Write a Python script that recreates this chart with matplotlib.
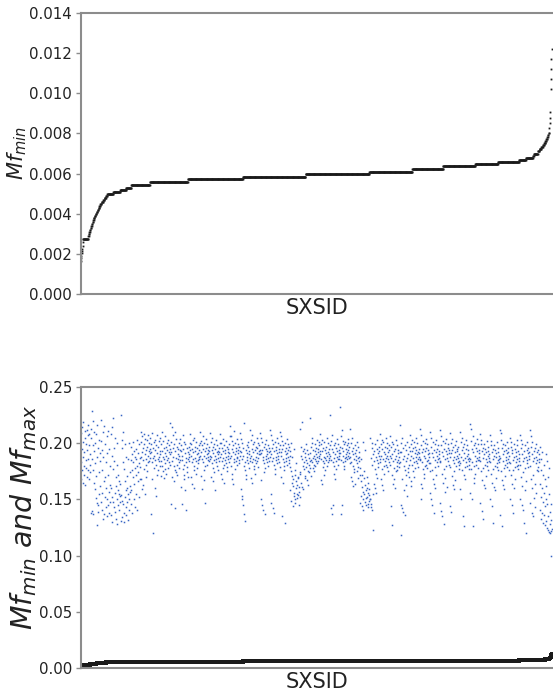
import numpy as np
import matplotlib
matplotlib.use("Agg")
import matplotlib.pyplot as plt

# Sorted minimum values: each level and how many SXSIDs sit on it
mf_min_levels = [0.00166, 0.0018, 0.0019, 0.00205, 0.00215, 0.00225, 0.0024, 0.0026, 0.00275,
                 0.0029, 0.0030, 0.0031, 0.0032, 0.0033, 0.0034, 0.0035, 0.0036, 0.0037,
                 0.0038, 0.0039, 0.0040, 0.0041, 0.0042, 0.0043, 0.0044,
                 0.0045, 0.0046, 0.0047, 0.0048, 0.0049,
                 0.0050, 0.0051, 0.0052, 0.0053, 0.00545, 0.00558, 0.00571, 0.00583, 0.00598,
                 0.0061, 0.00623, 0.00636, 0.00648, 0.00658, 0.0067,
                 0.0068, 0.0069, 0.0070, 0.0071, 0.0072, 0.0073, 0.0074, 0.0075, 0.0076,
                 0.0077, 0.0078, 0.0079, 0.0080,
                 0.00829, 0.00854, 0.00878, 0.00907, 0.0102, 0.0107, 0.0112, 0.0117, 0.0122]
mf_min_counts = [1, 1, 1, 1, 1, 1, 1, 1, 16,
                 2, 2, 2, 2, 2, 2, 2, 2, 2,
                 3, 3, 3, 3, 3, 3, 3,
                 4, 5, 4, 5, 4,
                 19, 22, 19, 16, 60, 121, 175, 200, 203,
                 137, 98, 102, 73, 67, 22,
                 22, 3, 13, 5, 6, 5, 4, 4, 3,
                 3, 2, 2, 2,
                 1, 1, 1, 1, 1, 1, 1, 1, 1]

# Maximum values (in units of 0.001), in SXSID order
mf_max_left = [
    183, 209, 168, 195, 214, 176, 201, 165, 188, 219, 172, 192, 180, 211, 163, 205, 178, 199, 185, 212, 170, 194, 207, 176, 216, 186, 168, 198, 208, 181, 190, 174,
    205, 138, 213, 186, 229, 140, 198, 176, 137, 220, 165, 193, 210, 159, 182, 200, 151, 171, 208, 147, 127, 188, 216, 139, 196, 145, 174, 203, 155, 191, 162, 184,
    221, 148, 202, 176, 156, 194, 141, 210, 133, 188, 166, 137, 215, 152, 199, 170, 143, 183, 160, 206, 135, 191, 150, 172, 145, 211, 157, 195, 138, 180, 163, 148,
    208, 160, 136, 214, 189, 152, 130, 222, 177, 148, 196, 143, 184, 156, 205, 139, 170, 133, 162, 200, 150, 181, 128, 158, 145, 172, 166, 141, 155, 153, 164, 148,
    225, 154, 131, 203, 149, 196, 134, 183, 146, 210, 130, 177, 138, 166, 152, 199, 143, 158, 188, 136, 171, 148, 160, 132, 186, 155, 141, 200, 150, 174, 162, 157,
    197, 158, 185, 146, 190, 176, 138, 201, 170, 183, 150, 193, 164, 188, 178, 143, 195, 172, 186, 155, 203, 180, 141, 174, 191, 166, 199, 182, 152, 168, 187, 179,
    210, 188, 168, 201, 192, 159, 206, 185, 196, 163, 199, 177, 208, 155, 190, 204, 181, 194, 170, 186, 203, 175, 197, 183, 189, 207, 193, 200, 184, 195, 191, 187,
    205, 192, 137, 199, 183, 209, 168, 187, 196, 120, 178, 201, 189, 160, 194, 185, 203, 153, 181, 198, 172, 191, 207, 176, 186, 197, 184, 202, 188, 180, 193, 190,
    205, 184, 199, 171, 193, 210, 180, 188, 202, 175, 196, 186, 169, 191, 206, 182, 177, 197, 173, 189, 200, 185, 194, 178, 203, 187, 192, 183, 198, 181, 195, 190,
    218, 192, 146, 201, 184, 214, 170, 196, 188, 207, 166, 180, 199, 142, 176, 193, 210, 187, 174, 204, 181, 197, 172, 190, 186, 195, 183, 200, 178, 189, 194, 185,
    204, 161, 193, 198, 185, 146, 189, 207, 177, 195, 172, 181, 201, 168, 191, 158, 199, 183, 141, 187, 196, 174, 179, 192, 186, 170, 197, 184, 190, 188, 194, 200,
    208, 189, 170, 199, 183, 195, 164, 203, 186, 192, 176, 205, 180, 160, 197, 187, 193, 173, 201, 184, 190, 178, 196, 185, 191, 182, 198, 188, 194, 186, 200, 189,
    210, 192, 171, 202, 186, 198, 159, 206, 183, 195, 176, 189, 200, 167, 193, 180, 147, 204, 187, 196, 181, 190, 199, 185, 191, 194, 188, 197, 184, 193, 189, 186,
    209, 188, 170, 201, 194, 182, 205, 166, 191, 197, 178, 185, 199, 174, 189, 158, 195, 183, 203, 186, 192, 180, 198, 176, 190, 193, 187, 184, 196, 192, 188, 200,
    208, 190, 173, 200, 184, 196, 168, 204, 187, 193, 178, 181, 198, 165, 191, 185, 194, 182, 202, 188, 179, 197, 175, 192, 189, 186, 195, 183, 191, 199, 206, 187,
]
mf_max_mid = [
    215, 189, 180, 206, 173, 195, 202, 168, 192, 198, 164, 186, 183, 211, 177, 200, 190, 196, 184, 193, 187, 181, 204, 188, 199, 194, 191, 185, 182, 197, 193, 189,
    209, 159, 192, 204, 153, 186, 200, 150, 196, 145, 189, 218, 180, 137, 183, 131, 176, 194, 172, 168, 198, 188, 191, 185, 201, 182, 197, 190, 193, 178, 187, 184,
    212, 189, 169, 203, 183, 207, 195, 165, 199, 186, 192, 177, 180, 201, 173, 194, 185, 197, 188, 182, 205, 191, 196, 184, 200, 187, 179, 193, 190, 198, 194, 190,
    209, 150, 191, 205, 167, 194, 145, 201, 185, 188, 141, 197, 182, 174, 199, 137, 178, 195, 189, 186, 203, 183, 193, 190, 198, 180, 187, 196, 184, 192, 188, 193,
    212, 155, 190, 207, 147, 196, 184, 203, 142, 199, 187, 138, 193, 181, 177, 201, 173, 194, 188, 197, 185, 191, 182, 205, 189, 200, 186, 195, 192, 183, 179, 198,
    210, 170, 192, 206, 189, 195, 135, 202, 186, 165, 198, 183, 180, 176, 200, 129, 193, 187, 196, 184, 190, 181, 204, 191, 199, 188, 194, 185, 182, 197, 193, 189,
    179, 158, 175, 200, 149, 171, 165, 188, 162, 144, 168, 156, 195, 153, 176, 150, 147, 172, 160, 166, 182, 155, 151, 163, 170, 154, 169, 145, 161, 157, 152, 174,
    213, 173, 197, 165, 189, 219, 186, 161, 193, 180, 159, 183, 177, 195, 169, 191, 188, 171, 185, 179, 199, 167, 182, 194, 175, 190, 163, 187, 181, 174, 184, 178,
    222, 191, 171, 197, 185, 205, 183, 200, 178, 194, 187, 175, 189, 181, 199, 186, 193, 180, 196, 184, 190, 182, 203, 188, 195, 192, 184, 198, 187, 189, 201, 193,
    208, 190, 167, 199, 186, 203, 164, 193, 184, 196, 179, 188, 172, 201, 182, 176, 194, 187, 191, 185, 197, 180, 205, 189, 183, 200, 192, 187, 195, 190, 185, 198,
    225, 189, 142, 202, 185, 207, 137, 195, 183, 192, 145, 187, 198, 180, 173, 200, 168, 190, 177, 196, 184, 193, 188, 204, 181, 199, 186, 194, 191, 189, 186, 197,
    232, 191, 137, 206, 185, 212, 196, 145, 189, 202, 183, 193, 180, 199, 177, 187, 201, 184, 195, 190, 188, 198, 186, 192, 204, 189, 200, 194, 197, 191, 187, 182,
    213, 188, 170, 200, 183, 205, 166, 193, 180, 196, 162, 190, 174, 186, 177, 198, 191, 164, 194, 185, 189, 182, 201, 175, 187, 169, 197, 179, 192, 188, 184, 172,
    178, 147, 166, 186, 153, 161, 144, 172, 157, 150, 201, 141, 169, 175, 155, 163, 148, 194, 158, 151, 145, 160, 170, 152, 146, 156, 143, 165, 149, 159, 154, 150,
    150, 205, 146, 187, 143, 196, 181, 141, 200, 123, 190, 155, 184, 164, 193, 177, 160, 199, 173, 188, 156, 195, 169, 185, 203, 182, 191, 179, 197, 189, 193, 186,
    208, 183, 168, 199, 189, 163, 203, 177, 195, 158, 186, 201, 173, 192, 180, 197, 184, 190, 205, 187, 181, 196, 179, 200, 189, 175, 192, 186, 198, 183, 194, 189,
]
mf_max_right = [
    206, 181, 144, 197, 187, 127, 201, 172, 190, 164, 184, 199, 168, 193, 178, 160, 195, 186, 203, 175, 189, 180, 198, 183, 176, 194, 185, 191, 182, 188, 179, 192,
    216, 183, 145, 200, 118, 192, 168, 205, 142, 186, 196, 139, 180, 158, 189, 136, 176, 198, 163, 184, 172, 194, 153, 187, 201, 178, 190, 174, 197, 181, 170, 193,
    207, 185, 166, 199, 189, 162, 203, 181, 193, 175, 196, 187, 170, 201, 183, 191, 178, 197, 188, 194, 184, 205, 190, 182, 200, 186, 192, 179, 195, 188, 191, 185,
    213, 186, 164, 198, 150, 207, 183, 192, 160, 202, 177, 195, 173, 189, 169, 200, 180, 193, 187, 204, 181, 196, 184, 199, 178, 190, 185, 194, 188, 182, 191, 175,
    210, 182, 156, 197, 150, 205, 176, 191, 145, 201, 168, 188, 138, 194, 164, 185, 179, 199, 160, 192, 172, 203, 183, 189, 195, 180, 198, 186, 193, 187, 190, 184,
    212, 183, 147, 198, 140, 206, 173, 192, 135, 202, 165, 189, 128, 195, 177, 186, 157, 200, 169, 193, 180, 204, 161, 190, 187, 199, 184, 196, 181, 194, 191, 188,
    209, 179, 144, 200, 191, 139, 204, 171, 194, 163, 197, 185, 159, 188, 175, 182, 198, 167, 192, 186, 202, 180, 195, 189, 193, 183, 197, 187, 190, 177, 184, 181,
    210, 182, 159, 201, 188, 150, 205, 176, 194, 135, 197, 185, 126, 191, 172, 199, 168, 187, 179, 203, 183, 195, 189, 180, 198, 186, 194, 190, 177, 181, 187, 184,
    217, 186, 156, 202, 177, 213, 150, 195, 183, 206, 126, 192, 169, 198, 180, 165, 189, 173, 200, 184, 196, 181, 193, 187, 204, 178, 199, 185, 191, 194, 188, 185,
    208, 184, 147, 199, 175, 203, 140, 193, 167, 196, 133, 187, 178, 190, 163, 199, 181, 160, 195, 171, 186, 192, 183, 202, 180, 197, 189, 176, 193, 184, 190, 187,
    207, 183, 150, 198, 173, 202, 144, 192, 165, 195, 129, 186, 177, 189, 161, 198, 180, 158, 194, 169, 188, 191, 182, 201, 179, 196, 185, 176, 192, 183, 189, 186,
    212, 187, 136, 203, 175, 209, 126, 196, 167, 190, 184, 199, 163, 193, 178, 159, 198, 181, 171, 194, 188, 185, 201, 182, 191, 179, 196, 186, 192, 176, 189, 183,
    205, 182, 150, 197, 172, 201, 145, 191, 164, 194, 138, 185, 176, 188, 160, 199, 179, 168, 195, 183, 189, 192, 180, 203, 186, 198, 177, 193, 181, 190, 187, 184,
    207, 181, 150, 196, 170, 203, 145, 190, 162, 199, 141, 184, 174, 187, 129, 193, 178, 158, 198, 120, 188, 166, 194, 182, 201, 185, 179, 196, 191, 186, 192, 189,
    212, 180, 147, 197, 168, 206, 138, 190, 160, 201, 135, 184, 172, 193, 151, 187, 164, 196, 143, 182, 188, 156, 199, 176, 192, 185, 175, 194, 179, 190, 183, 186,
    197, 164, 141, 186, 152, 133, 176, 160, 192, 138, 148, 172, 129, 181, 156, 136, 168, 144, 127, 190, 150, 131, 162, 125, 184, 146, 135, 123, 170, 155, 121, 178,
    139, 128, 120, 146, 122, 100, 132, 124,
]

top_yticks = [0.000, 0.002, 0.004, 0.006, 0.008, 0.010, 0.012, 0.014]
bottom_yticks = [0.00, 0.05, 0.10, 0.15, 0.20, 0.25]

mf_min = np.repeat(mf_min_levels, mf_min_counts)
n_ids = len(mf_min)
x_min = np.arange(n_ids) + 0.5

mf_max = np.array(mf_max_left + mf_max_mid + mf_max_right) / 1000.0
x_max = np.linspace(0.5, n_ids - 0.5, len(mf_max))

W, H = 553, 693
fig = plt.figure(figsize=(W / 100, H / 100), dpi=100)

left = 80.5 / W
width = 553.5 / W - left
ax1 = fig.add_axes([left, 1 - 294 / H, width, 281 / H])
ax2 = fig.add_axes([left, 1 - 668 / H, width, 281 / H])

spine_col = "#8c8c8c"
for ax in (ax1, ax2):
    for side in ("left", "bottom", "top"):
        ax.spines[side].set_color(spine_col)
        ax.spines[side].set_linewidth(1.5)
    ax.spines["right"].set_visible(False)
    ax.set_xlim(0, n_ids + 5)
    ax.set_xticks([])
    ax.tick_params(axis="y", length=3.5, width=1.0, color=spine_col,
                   labelsize=10.8, labelcolor="#222222", pad=2.5)
    ax.set_xlabel("SXSID", fontsize=15, color="#222222", labelpad=3)

# Top panel: sorted minimum values
ax1.plot(x_min, mf_min, linestyle="none", marker="s", markersize=1.3,
         markeredgewidth=0, color="#1a1a1a", clip_on=False)
ax1.set_ylim(0, 0.014)
ax1.set_yticks(top_yticks)
ax1.set_yticklabels([f"{v:.3f}" for v in top_yticks])
ax1.set_ylabel(r"$Mf_{min}$", fontsize=15, color="#222222", va="center")
ax1.yaxis.set_label_coords(-0.134, 0.5)

# Bottom panel: maximum values over the same ordering, minimum values underneath
ax2.plot(x_max, mf_max, linestyle="none", marker="s", markersize=1.1,
         markeredgewidth=0, color="#3865c4")
ax2.plot(x_min, mf_min, linestyle="none", marker="s", markersize=2.2,
         markeredgewidth=0, color="#1a1a1a")
ax2.set_ylim(0, 0.25)
ax2.set_yticks(bottom_yticks)
ax2.set_yticklabels([f"{v:.2f}" for v in bottom_yticks])
ax2.set_ylabel(r"$Mf_{min}\ and\ Mf_{max}$", fontsize=20.5, color="#222222",
               va="center")
ax2.yaxis.set_label_coords(-0.121, 0.537)

fig.savefig("out.png", dpi=100)
